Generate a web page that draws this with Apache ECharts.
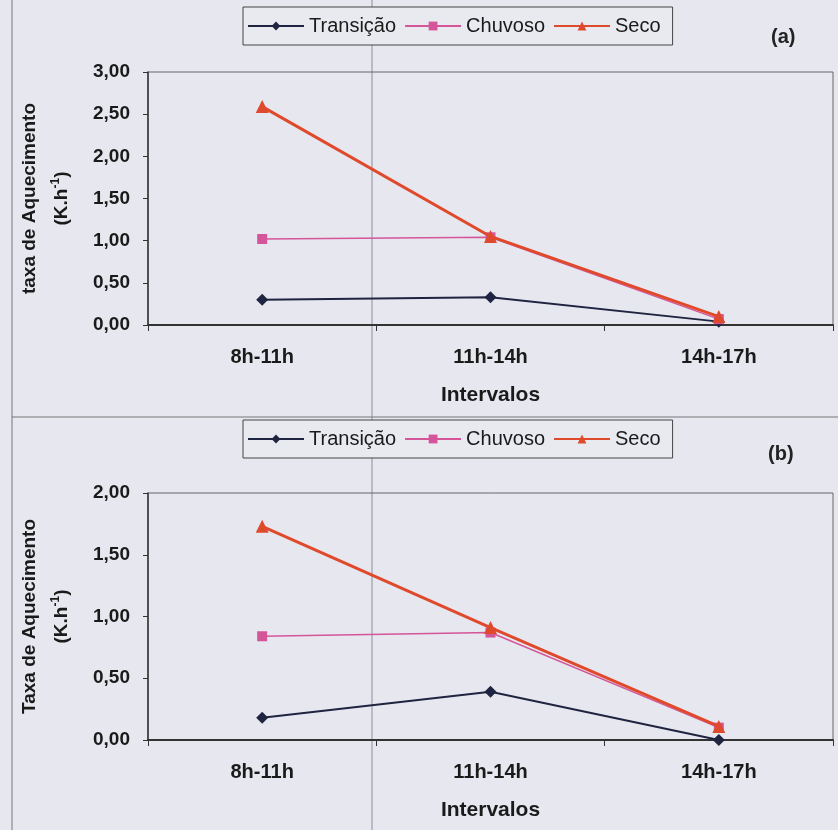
<!DOCTYPE html>
<html>
<head>
<meta charset="utf-8">
<script src="https://cdn.jsdelivr.net/npm/echarts@6/dist/echarts.min.js"></script>
<style>
html,body{margin:0;padding:0;background:#e7e8ef;}
#chart{width:838px;height:830px;}
</style>
</head>
<body>
<div id="chart"></div>
<script>
// Data
const categories = ['8h-11h', '11h-14h', '14h-17h'];
const seriesNames = ['Transição', 'Chuvoso', 'Seco'];
// Panel (a)
const transicaoA = [0.30, 0.33, 0.04];
const chuvosoA = [1.02, 1.04, 0.07];
const secoA = [2.59, 1.05, 0.10];
// Panel (b)
const transicaoB = [0.18, 0.39, 0.00];
const chuvosoB = [0.84, 0.87, 0.10];
const secoB = [1.73, 0.91, 0.11];
const yMaxA = 3, yIntA = 0.5;
const yMaxB = 2, yIntB = 0.5;

const FONT = 'Liberation Sans, Arial, sans-serif';
const colors = ['#1f2440', '#d4559a', '#e04a2c'];
const symbols = ['diamond', 'rect', 'triangle'];
const symbolSizes = [12, 10, 13];
const widths = [2, 1.5, 3];

const chart = echarts.init(document.getElementById('chart'));

function makeSeries(idx, data, name, k) {
  return {
    type: 'line', name: name, xAxisIndex: idx, yAxisIndex: idx,
    data: data, symbol: symbols[k], symbolSize: symbolSizes[k],
    showAllSymbol: true, z: 3 + k,
    lineStyle: { color: colors[k], width: widths[k] },
    itemStyle: { color: colors[k], borderWidth: 0 },
    emphasis: { disabled: true }
  };
}
function fmt(v) { return v.toFixed(2).replace('.', ','); }

function xAx(idx) {
  return {
    type: 'category', gridIndex: idx, data: categories,
    boundaryGap: true,
    axisLine: { lineStyle: { color: '#333', width: 2 } },
    axisTick: { show: true, length: 6, lineStyle: { color: '#333' } },
    axisLabel: { color: '#1a1a1a', fontFamily: FONT, fontWeight: 'bold', fontSize: 20, margin: 22 },
    name: 'Intervalos', nameLocation: 'middle', nameGap: 60,
    nameTextStyle: { color: '#1a1a1a', fontFamily: FONT, fontWeight: 'bold', fontSize: 21 }
  };
}
function yAx(idx, max, interval, title) {
  return {
    type: 'value', gridIndex: idx, min: 0, max: max, interval: interval,
    splitLine: { show: false },
    axisLine: { show: true, lineStyle: { color: '#333', width: 1.5 } },
    axisTick: { show: true, length: 5, lineStyle: { color: '#333' } },
    axisLabel: { color: '#1a1a1a', fontFamily: FONT, fontWeight: 'bold', fontSize: 19, margin: 18, formatter: fmt },
    name: '{t|' + title + '}\n{t|(K.h}{sup|-1}{t|)}', nameLocation: 'middle', nameRotate: 90, nameGap: 70,
    nameTextStyle: {
      color: '#1a1a1a', fontFamily: FONT, fontWeight: 'bold', fontSize: 19, lineHeight: 32,
      rich: {
        t: { fontSize: 19, lineHeight: 32, fontFamily: FONT, fontWeight: 'bold', color: '#1a1a1a', verticalAlign: 'middle' },
        sup: { fontSize: 12, lineHeight: 12, verticalAlign: 'middle', padding: [0, 0, 12, 0], fontFamily: FONT, fontWeight: 'bold', color: '#1a1a1a' }
      }
    }
  };
}
function legend(top) {
  return {
    data: seriesNames, left: 243, top: top,
    backgroundColor: '#e9eaf0', borderColor: '#444', borderWidth: 1,
    padding: [9, 12, 9, 4], itemGap: 8, itemWidth: 56, itemHeight: 11,
    textStyle: { color: '#1a1a1a', fontFamily: FONT, fontSize: 20 },
    selectedMode: false
  };
}

chart.setOption({
  backgroundColor: '#e7e8ef',
  animation: false,
  title: [
    { text: '(a)', left: 766, top: 22, textStyle: { fontFamily: FONT, fontWeight: 'bold', fontSize: 20, color: '#222' } },
    { text: '(b)', left: 763, top: 439, textStyle: { fontFamily: FONT, fontWeight: 'bold', fontSize: 20, color: '#222' } }
  ],
  legend: [legend(7), legend(420)],
  grid: [
    { left: 148, right: 5, top: 72, bottom: 505, show: true, borderColor: '#666', borderWidth: 1, backgroundColor: 'transparent' },
    { left: 148, right: 5, top: 493, bottom: 90, show: true, borderColor: '#666', borderWidth: 1, backgroundColor: 'transparent' }
  ],
  xAxis: [xAx(0), xAx(1)],
  yAxis: [yAx(0, yMaxA, yIntA, 'taxa de Aquecimento'), yAx(1, yMaxB, yIntB, 'Taxa de Aquecimento')],
  series: [
    makeSeries(0, transicaoA, seriesNames[0], 0),
    makeSeries(0, chuvosoA, seriesNames[1], 1),
    makeSeries(0, secoA, seriesNames[2], 2),
    makeSeries(1, transicaoB, seriesNames[0], 0),
    makeSeries(1, chuvosoB, seriesNames[1], 1),
    makeSeries(1, secoB, seriesNames[2], 2)
  ],
  graphic: [
    { type: 'line', shape: { x1: 12, y1: 0, x2: 12, y2: 830 }, style: { stroke: '#777', lineWidth: 1 }, silent: true },
    { type: 'line', shape: { x1: 12, y1: 417, x2: 838, y2: 417 }, style: { stroke: '#777', lineWidth: 1 }, silent: true },
    { type: 'line', shape: { x1: 372, y1: 0, x2: 372, y2: 830 }, style: { stroke: '#8a8c9c', lineWidth: 1 }, silent: true, z: -1 }
  ]
});
</script>
</body>
</html>
